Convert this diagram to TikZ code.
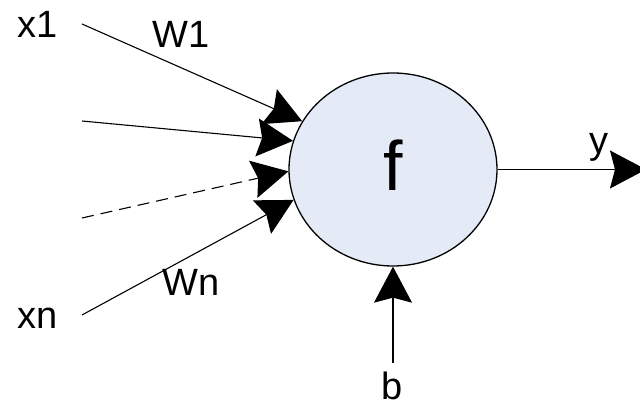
\documentclass[tikz,border=0pt]{standalone}
\usepackage{fontspec}
\setmainfont{Liberation Sans}
\usetikzlibrary{arrows.meta,shapes.geometric}
\definecolor{cellfill}{HTML}{E4EBF7}
\tikzset{
  lbl/.style={anchor=base west,inner sep=0pt,font=\fontsize{38}{40}\selectfont},
  conn/.style={line width=1.1pt,-{Stealth[length=36pt,width=38pt,inset=5pt]}},
}
\begin{document}
\begin{tikzpicture}[x=1pt,y=-1pt]
\useasboundingbox (0,0) rectangle (640,406);
\node[ellipse,draw,line width=1.3pt,fill=cellfill,minimum width=208pt,minimum height=193pt,inner sep=0pt] (f) at (393,169.5) {};
\node[anchor=base,inner sep=0pt,font=\fontsize{70}{72}\selectfont] (flabel) at (393,191) {f};
\coordinate (s1) at (82,24);
\coordinate (s2) at (82,121);
\coordinate (s3) at (82,218);
\coordinate (s4) at (82,315);
\coordinate (out) at (646,169.5);
\coordinate (bs) at (393,363);
\draw[conn] (s1) -- (f.152.4);
\draw[conn] (s2) -- (f.164.1);
\draw[conn,dashed,dash pattern=on 12pt off 7pt] (s3) -- (f.181);
\draw[conn] (s4) -- (f.197.8);
\draw[conn] (f.east) -- (out);
\draw[conn] (bs) -- (f.south);
\node[lbl] (x1) at (17,38) {x1};
\node[lbl] (xn) at (17,328) {xn};
\node[lbl] (w1) at (152,48) {W1};
\node[lbl] (wn) at (162,295) {Wn};
\node[lbl] (y) at (589,154) {y};
\node[lbl] (b) at (381,399) {b};
\end{tikzpicture}
\end{document}
